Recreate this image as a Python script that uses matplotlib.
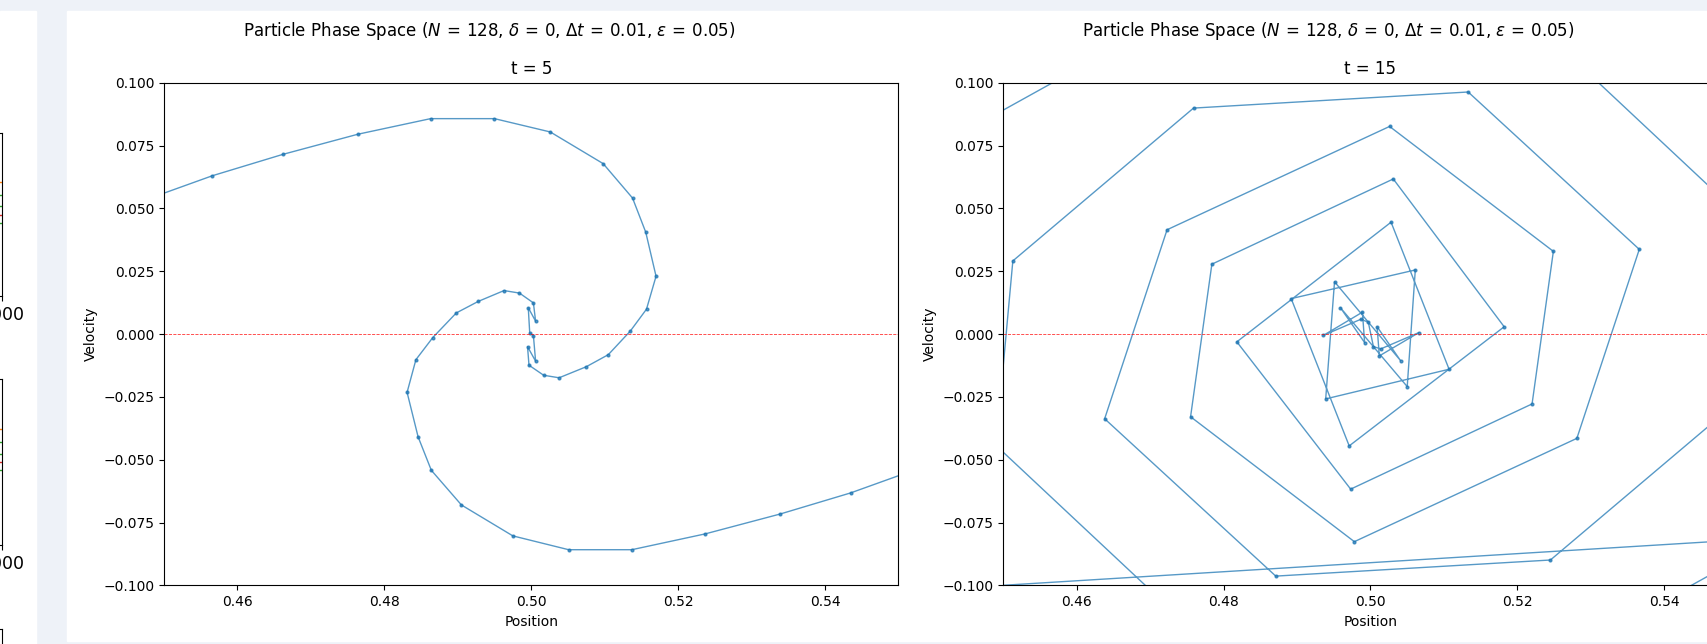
import numpy as np
import matplotlib.pyplot as plt
from matplotlib.patches import Rectangle

# phase space snapshots (position, velocity) in particle order
x_t5 = [0.4469, 0.4566, 0.4662, 0.4764, 0.4863, 0.4950, 0.5026, 0.5098, 0.5138,
        0.5156, 0.5170, 0.5157, 0.5135, 0.5105, 0.5075, 0.5038, 0.5017, 0.4997,
        0.4995, 0.5006, 0.5003, 0.4998, 0.4996, 0.5006, 0.5003, 0.4984, 0.4963,
        0.4928, 0.4898, 0.4866, 0.4843, 0.4831, 0.4846, 0.4864, 0.4905, 0.4975,
        0.5051, 0.5137, 0.5237, 0.5339, 0.5435, 0.5534]
v_t5 = [0.0528, 0.0630, 0.0715, 0.0795, 0.0857, 0.0857, 0.0804, 0.0678, 0.0541,
        0.0405, 0.0230, 0.0099, 0.0012, -0.0082, -0.0130, -0.0174, -0.0164, -0.0124,
        -0.0050, -0.0108, -0.0006, 0.0004, 0.0105, 0.0051, 0.0124, 0.0163, 0.0173,
        0.0130, 0.0084, -0.0014, -0.0102, -0.0232, -0.0409, -0.0542, -0.0680, -0.0803,
        -0.0858, -0.0858, -0.0795, -0.0716, -0.0632, -0.0528]

x_t15 = [0.4450, 0.5034, 0.5514, 0.5491, 0.5245, 0.4871, 0.4638, 0.4723, 0.5026,
         0.5249, 0.5220, 0.4973, 0.4818, 0.5028, 0.5107, 0.4939, 0.4951,
         0.5041, 0.5009, 0.5012, 0.5066, 0.5014, 0.5004,
         0.4997, 0.4987, 0.4936, 0.4989, 0.4992, 0.4959,
         0.5050, 0.5061, 0.4892, 0.4971, 0.5182, 0.5031, 0.4784, 0.4755, 0.4978,
         0.5281, 0.5366, 0.5133, 0.4759, 0.4513, 0.4490, 0.4970, 0.5554, 0.3997]
v_t15 = [0.0810, 0.1757, 0.0443, -0.0291, -0.0899, -0.0963, -0.0337, 0.0415, 0.0826,
         0.0329, -0.0278, -0.0617, -0.0031, 0.0445, -0.0140, -0.0258, 0.0208,
         -0.0106, 0.0029, -0.0087, 0.0006, -0.0059, -0.0050,
         0.0047, 0.0059, -0.0005, 0.0087, -0.0034, 0.0105,
         -0.0209, 0.0255, 0.0141, -0.0445, 0.0029, 0.0617, 0.0278, -0.0329, -0.0826,
         -0.0415, 0.0337, 0.0963, 0.0899, 0.0291, -0.0443, -0.1757, -0.0810, -0.1090]

snapshots = [(5, x_t5, v_t5), (15, x_t15, v_t15)]
title = (r'Particle Phase Space ($N\,=\,128$, $\delta\,=\,0$, '
         r'$\Delta t\,=\,0.01$, $\varepsilon\,=\,0.05$)')

W, H = 1707, 644
fig = plt.figure(figsize=(W / 100, H / 100), dpi=100, facecolor='#eef2f8')


def px_box(x0, y0, x1, y1):
    return [x0 / W, 1 - y1 / H, (x1 - x0) / W, (y1 - y0) / H]


# notebook output panels, kept behind the axes
fig.patches.append(Rectangle((67 / W, 1 - 641 / H), (W - 67) / W, 630 / H,
                             transform=fig.transFigure, color='white', zorder=-5))
fig.patches.append(Rectangle((0, 1 - 644 / H), 36 / W, 633 / H,
                             transform=fig.transFigure, color='white', zorder=-5))

# previous output, cut off at the left edge
for y0, y1 in [(133, 296), (379, 545), (629, 800)]:
    axs = fig.add_axes(px_box(-150, y0, 2, y1))
    axs.set_xlim(0, 1000)
    axs.set_ylim(0, 1)
    axs.set_xticks([1000])
    axs.set_xticklabels(['1000'], fontsize=12.5)
    axs.set_yticks([])
    for yy, c in [(0.55, 'tab:green'), (0.62, 'tab:green'), (0.5, 'tab:red'),
                  (0.7, 'tab:orange'), (0.45, 'tab:green')]:
        axs.plot([990, 1000], [yy, yy], color=c, lw=1)

offset = 839.3
for k, (t, xs, vs) in enumerate(snapshots):
    dx = k * offset
    fig.text((489 + dx) / W, 1 - 30.5 / H, title, ha='center', va='center', fontsize=12)
    ax = fig.add_axes(px_box(164 + dx, 82.7, 898.4 + dx, 585.4))
    ax.plot(xs, vs, 'o-', color='#1f77b4', ms=2, lw=1, alpha=0.75)
    ax.axhline(0, color='red', ls='--', lw=0.6, alpha=0.8)
    ax.set_xlim(0.45, 0.55)
    ax.set_ylim(-0.1, 0.1)
    ax.set_title(f't = {t}')
    ax.set_xlabel('Position')
    ax.set_ylabel('Velocity')

fig.savefig('out.png', dpi=100, facecolor=fig.get_facecolor())
